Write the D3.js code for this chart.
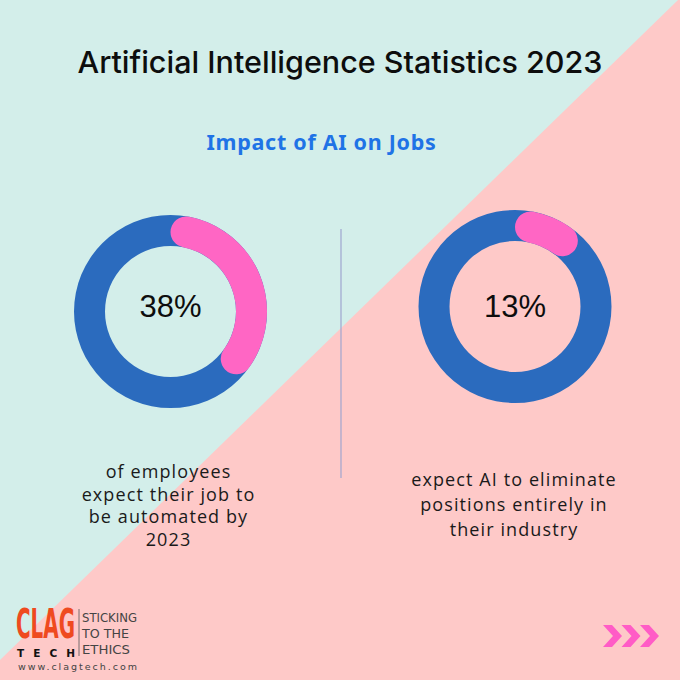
<!DOCTYPE html>
<html>
<head>
<meta charset="utf-8">
<script src="https://cdn.jsdelivr.net/npm/d3@7"></script>
<style>
  html, body { margin: 0; padding: 0; background: #fff; }
  svg { display: block; }
</style>
</head>
<body>
<div id="chart"></div>
<script>
// ---- Data ----
const title = "Artificial Intelligence Statistics 2023";
const subtitle = "Impact of AI on Jobs";
const statValues = [38, 13];
const statLabels = ["38%", "13%"];
const captionsLeft = ["of employees", "expect their job to", "be automated by", "2023"];
const captionsRight = ["expect AI to eliminate", "positions entirely in", "their industry"];
const captions = [captionsLeft, captionsRight];
const brandMain = "CLAG";
const brandSub = "TECH";
const taglineLines = ["STICKING", "TO THE", "ETHICS"];
const website = "www.clagtech.com";

// ---- Layout ----
const W = 680, H = 680;
const svg = d3.select("#chart").append("svg").attr("width", W).attr("height", H);

// background split
svg.append("rect").attr("width", W).attr("height", H).attr("fill", "#d3eeea");
svg.append("path")
  .attr("d", d3.line()([[678, 0], [W, 0], [W, H], [0, H], [0, 660]]) + "Z")
  .attr("fill", "#fec9c8");

// title
svg.append("text").attr("x", 340).attr("y", 73).attr("text-anchor", "middle")
  .attr("font-family", "Inter, 'Noto Sans', sans-serif").attr("font-weight", 500)
  .attr("font-size", 30.5).attr("fill", "#0d0d0d").text(title);

svg.append("text").attr("x", 321.5).attr("y", 150).attr("text-anchor", "middle")
  .attr("font-family", "'Noto Sans', 'Open Sans', sans-serif").attr("font-weight", 700)
  .attr("font-size", 21.5).attr("letter-spacing", 0.7).attr("fill", "#1f73e6").text(subtitle);

// divider
svg.append("line").attr("x1", 341).attr("x2", 341).attr("y1", 229).attr("y2", 478)
  .attr("stroke", "#9fa6cf").attr("stroke-width", 1.2);

// donuts
const centersX = [170.5, 515];
const centersY = [311.5, 306.5];
const labelBaseline = 317;
const outerR = 96.5, innerR = 65.5;
const angle = d3.scaleLinear().domain([0, 100]).range([0, 2 * Math.PI]);
const ringArc = d3.arc().innerRadius(innerR).outerRadius(outerR).startAngle(0).endAngle(2 * Math.PI);
const valueArc = d3.arc().innerRadius(innerR).outerRadius(outerR)
  .cornerRadius((outerR - innerR) / 2).startAngle(0).endAngle(d => angle(d));

statValues.forEach((v, i) => {
  const g = svg.append("g").attr("transform", `translate(${centersX[i]},${centersY[i]})`);
  g.append("path").attr("d", ringArc()).attr("fill", "#2b6bbe");
  g.append("path").datum(v).attr("d", valueArc).attr("fill", "#ff66c4");
  g.append("text").attr("text-anchor", "middle").attr("y", labelBaseline - centersY[i])
    .attr("font-family", "'Liberation Sans', Arial, sans-serif")
    .attr("font-size", 31).attr("fill", "#0d0d0d").text(statLabels[i]);
});

// captions
const capY0 = [478, 486];
const capDy = [22.5, 25];
captions.forEach((lines, i) => {
  const t = svg.append("text").attr("text-anchor", "middle")
    .attr("font-family", "'Open Sans', 'Noto Sans', sans-serif").attr("font-weight", 500)
    .attr("font-size", 18).attr("letter-spacing", 1.1).attr("fill", "#1a1a1a");
  lines.forEach((l, j) => {
    t.append("tspan").attr("x", i === 0 ? 168.5 : 514).attr("y", capY0[i] + j * capDy[i]).text(l);
  });
});

// logo
const logo = svg.append("g");
const clag = logo.append("text")
  .attr("font-family", "'DejaVu Sans Condensed', 'Liberation Sans Narrow', sans-serif")
  .attr("font-weight", 700).attr("font-size", 40).attr("fill", "#ef4a1f").text(brandMain);
const clagLen = clag.node().getComputedTextLength() || 59;
clag.attr("transform", `translate(16,638) scale(${59 / clagLen},1)`);
logo.append("text").attr("x", 17).attr("y", 657)
  .attr("font-family", "'DejaVu Sans', sans-serif").attr("font-weight", 700)
  .attr("font-size", 10.5).attr("fill", "#111")
  .attr("textLength", 58).attr("lengthAdjust", "spacing").text(brandSub);
logo.append("line").attr("x1", 79).attr("x2", 79).attr("y1", 609).attr("y2", 656)
  .attr("stroke", "#555").attr("stroke-width", 0.8);
const tagWidths = [55, 47, 48];
taglineLines.forEach((l, j) => {
  logo.append("text").attr("x", 82).attr("y", 621.5 + j * 16)
    .attr("font-family", "'Liberation Sans Narrow', 'DejaVu Sans Condensed', sans-serif")
    .attr("font-size", 13).attr("fill", "#444")
    .attr("textLength", tagWidths[j]).attr("lengthAdjust", "spacingAndGlyphs").text(l);
});
logo.append("text").attr("x", 18).attr("y", 670)
  .attr("font-family", "'DejaVu Sans', sans-serif").attr("font-size", 9.5).attr("fill", "#444")
  .attr("textLength", 119).attr("lengthAdjust", "spacing").text(website);

// chevrons
const chev = d3.range(3);
svg.append("g").selectAll("path").data(chev).join("path")
  .attr("transform", d => `translate(${603 + d * 18.5},625)`)
  .attr("d", d3.line()([[0, 0], [9, 0], [19, 11], [9, 22], [0, 22], [10, 11]]) + "Z")
  .attr("fill", "#ff5cc6");
</script>
</body>
</html>
